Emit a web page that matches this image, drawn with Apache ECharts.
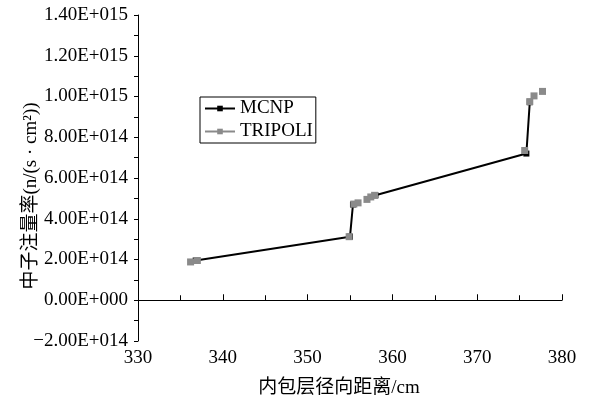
<!DOCTYPE html>
<html>
<head>
<meta charset="utf-8">
<script src="https://cdn.jsdelivr.net/npm/echarts@6/dist/echarts.min.js"></script>
<style>html,body{margin:0;padding:0;background:#fff}#c{width:590px;height:402px}</style>
</head>
<body>
<div id="c"></div>
<script>
var mcnpX = [336.8, 355.0, 355.35, null, 358.0, 375.8, 376.2];
var mcnpY = [1.95e14, 3.12e14, 4.70e14, null, 5.15e14, 7.20e14, 9.72e14];
var tripoliX = [336.2, 337.0, 354.9, 355.45, 355.95, 357.0, 357.45, 357.9, 375.6, 376.2, 376.7, 377.7];
var tripoliY = [1.88e14, 1.95e14, 3.12e14, 4.72e14, 4.78e14, 4.95e14, 5.07e14, 5.15e14, 7.35e14, 9.75e14, 10.03e14, 10.25e14];
var xTickLabels = ['330', '340', '350', '360', '370', '380'];
var yTickLabels = ['\u22122.00E+014', '0.00E+000', '2.00E+014', '4.00E+014', '6.00E+014', '8.00E+014', '1.00E+015', '1.20E+015', '1.40E+015'];
var seriesNames = ['MCNP', 'TRIPOLI'];
var xName = '内包层径向距离/cm';
var yName = '中子注量率(n/(s · cm²))';

function pairs(xs, ys) {
  return xs.map(function (x, i) { return x === null ? '-' : [x, ys[i]]; });
}
var serif = "'Liberation Serif', 'Times New Roman', 'Noto Sans CJK SC', serif";
var yMin = -2e14, yInt = 2e14, xMin = 330, xInt = 10;

var chart = echarts.init(document.getElementById('c'), null, {renderer: 'canvas'});
chart.setOption({
  animation: false,
  backgroundColor: '#fff',
  grid: {left: 138, right: 28, top: 15, bottom: 61, containLabel: false, outerBoundsMode: 'none'},
  legend: {
    orient: 'vertical', left: 200, top: 97,
    borderColor: '#000', borderWidth: 1, padding: [2, 3, 2, 4],
    itemWidth: 30, itemHeight: 7, itemGap: 4,
    textStyle: {fontFamily: serif, fontSize: 19, color: '#000', lineHeight: 19},
    data: [
      {name: seriesNames[0]},
      {name: seriesNames[1], lineStyle: {opacity: 1, width: 2, color: '#8a8a8a'}}
    ]
  },
  xAxis: {
    type: 'value', min: xMin, max: 380, interval: xInt,
    name: xName, nameLocation: 'middle', nameGap: 38, nameMoveOverlap: false,
    nameTextStyle: {fontFamily: serif, fontSize: 19, color: '#000', padding: [0, 22, 0, 0]},
    axisLine: {show: true, lineStyle: {color: '#000', width: 1}},
    axisTick: {show: true, inside: true, length: 6, lineStyle: {color: '#000'}},
    minorTick: {show: true, splitNumber: 2, length: 5, lineStyle: {color: '#000'}},
    axisLabel: {fontFamily: serif, fontSize: 19, color: '#000', margin: 8,
      formatter: function (v) { return xTickLabels[Math.round((v - xMin) / xInt)]; }},
    splitLine: {show: false}
  },
  yAxis: {
    type: 'value', min: yMin, max: 1.4e15, interval: yInt,
    name: yName, nameLocation: 'middle', nameGap: 97, nameRotate: 90, nameMoveOverlap: false,
    nameTextStyle: {fontFamily: serif, fontSize: 19, color: '#000', padding: [0, 36, 0, 0]},
    axisLine: {show: true, lineStyle: {color: '#000', width: 1}},
    axisTick: {show: true, inside: false, length: 4, lineStyle: {color: '#000'}},
    minorTick: {show: true, splitNumber: 2, length: 4, lineStyle: {color: '#000'}},
    axisLabel: {fontFamily: serif, fontSize: 19, color: '#000', margin: 10,
      formatter: function (v) { return yTickLabels[Math.round((v - yMin) / yInt)]; }},
    splitLine: {show: false}
  },
  series: [
    {
      name: seriesNames[0], type: 'line', data: pairs(mcnpX, mcnpY),
      symbol: 'rect', symbolSize: 6, showSymbol: true, connectNulls: false,
      itemStyle: {color: '#000'}, lineStyle: {color: '#000', width: 2}, z: 2
    },
    {
      name: seriesNames[1], type: 'line', data: pairs(tripoliX, tripoliY),
      symbol: 'rect', symbolSize: 7, showSymbol: true,
      itemStyle: {color: '#8a8a8a'}, lineStyle: {color: '#8a8a8a', width: 2, opacity: 0}, z: 3
    }
  ]
});
</script>
</body>
</html>
